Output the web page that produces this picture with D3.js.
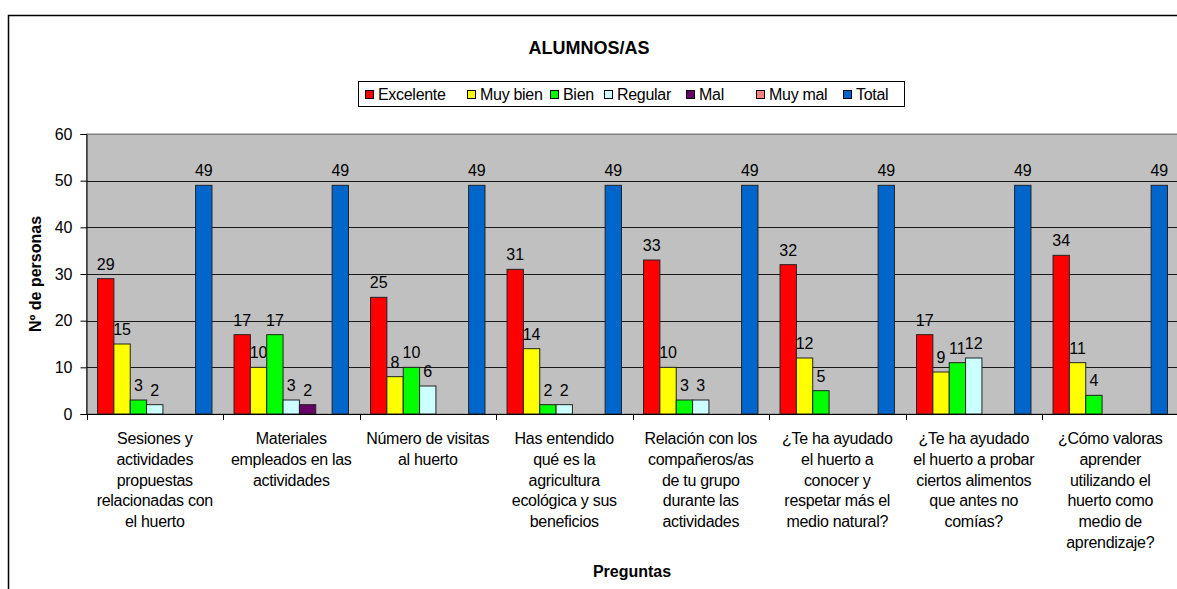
<!DOCTYPE html>
<html>
<head>
<meta charset="utf-8">
<script src="https://cdn.jsdelivr.net/npm/d3@7"></script>
<style>
    body { margin: 0; background: #fff; }
    text { font-family: "Liberation Sans", Arial, sans-serif; }
</style>
</head>
<body>
<div id="chart"></div>
<script>
const questions = [
    ["Sesiones y", "actividades", "propuestas", "relacionadas con", "el huerto"],
    ["Materiales", "empleados en las", "actividades"],
    ["Número de visitas", "al huerto"],
    ["Has entendido", "qué es la", "agricultura", "ecológica y sus", "beneficios"],
    ["Relación con los", "compañeros/as", "de tu grupo", "durante las", "actividades"],
    ["¿Te ha ayudado", "el huerto a", "conocer y", "respetar más el", "medio natural?"],
    ["¿Te ha ayudado", "el huerto a probar", "ciertos alimentos", "que antes no", "comías?"],
    ["¿Cómo valoras", "aprender", "utilizando el", "huerto como", "medio de", "aprendizaje?"]
];

const seriesNames = ["Excelente", "Muy bien", "Bien", "Regular", "Mal", "Muy mal", "Total"];
const seriesColors = ["#FF0000", "#FFFF00", "#00FF00", "#CCFFFF", "#660066", "#FF8080", "#0066CC"];

const excelente = [29, 17, 25, 31, 33, 32, 17, 34];
const muyBien   = [15, 10, 8, 14, 10, 12, 9, 11];
const bien      = [3, 17, 10, 2, 3, 5, 11, 4];
const regular   = [2, 3, 6, 2, 3, 0, 12, 0];
const mal       = [0, 2, 0, 0, 0, 0, 0, 0];
const muyMal    = [0, 0, 0, 0, 0, 0, 0, 0];
const total     = [49, 49, 49, 49, 49, 49, 49, 49];

const seriesValues = [excelente, muyBien, bien, regular, mal, muyMal, total];
const yTicks = [0, 10, 20, 30, 40, 50, 60];

const width = 1177;
const height = 589;
const plot = { left: 86.5, right: 1178.5, top: 134, bottom: 414 };

const svg = d3.select("#chart").append("svg")
    .attr("width", width)
    .attr("height", height);

// outer frame
svg.append("rect")
    .attr("x", 8.5).attr("y", 15.5)
    .attr("width", 1300).attr("height", 700)
    .attr("fill", "#fff")
    .attr("stroke", "#000")
    .attr("stroke-width", 1.5);

const xScaler = d3.scaleBand()
    .domain(d3.range(questions.length))
    .range([plot.left, plot.right])
    .padding(0);

const xInner = d3.scaleBand()
    .domain(d3.range(seriesNames.length))
    .range([0, xScaler.bandwidth()])
    .paddingInner(0)
    .paddingOuter(0.675);

const yScaler = d3.scaleLinear()
    .domain([0, 60])
    .range([plot.bottom, plot.top]);

// plot background
svg.append("rect")
    .attr("x", plot.left).attr("y", plot.top)
    .attr("width", plot.right - plot.left)
    .attr("height", plot.bottom - plot.top)
    .attr("fill", "#C0C0C0")
    .attr("stroke", "#808080");

// gridlines
svg.append("g")
    .selectAll("line")
    .data(yTicks.filter(d => d > 0))
    .join("line")
    .attr("x1", plot.left).attr("x2", plot.right)
    .attr("y1", d => Math.round(yScaler(d)) + 0.5)
    .attr("y2", d => Math.round(yScaler(d)) + 0.5)
    .attr("stroke", d => d === 60 ? "#808080" : "#1a1a1a")
    .attr("stroke-width", 1);

// bars
const groups = svg.append("g")
    .selectAll("g")
    .data(questions.map((q, i) => i))
    .join("g")
    .attr("transform", i => `translate(${xScaler(i)},0)`);

const cells = groups.selectAll("g")
    .data(i => seriesValues.map((vals, s) => ({ s: s, v: vals[i] })))
    .join("g");

cells.filter(d => d.v > 0)
    .append("rect")
    .attr("x", d => xInner(d.s))
    .attr("y", d => yScaler(d.v))
    .attr("width", xInner.bandwidth())
    .attr("height", d => plot.bottom - yScaler(d.v))
    .attr("fill", d => seriesColors[d.s])
    .attr("stroke", "#222")
    .attr("stroke-width", 1);

cells.filter(d => d.v > 0)
    .append("text")
    .attr("x", d => xInner(d.s) + xInner.bandwidth() / 2)
    .attr("y", d => yScaler(d.v) - 9)
    .attr("text-anchor", "middle")
    .attr("font-size", "16px")
    .attr("fill", "#000")
    .text(d => d.v);

// y axis
const yAxisGen = d3.axisLeft(yScaler)
    .tickValues(yTicks)
    .tickSize(6)
    .tickPadding(8);
const yAxis = svg.append("g")
    .attr("transform", `translate(${plot.left},0)`)
    .call(yAxisGen);
yAxis.select(".domain").attr("stroke", "#000");
yAxis.selectAll("text")
    .attr("font-size", "16px")
    .attr("font-family", "Liberation Sans, Arial, sans-serif")
    .attr("fill", "#000");

// x axis line and ticks between categories
svg.append("line")
    .attr("x1", plot.left).attr("x2", plot.right)
    .attr("y1", plot.bottom + 0.5).attr("y2", plot.bottom + 0.5)
    .attr("stroke", "#000");
svg.append("g")
    .selectAll("line")
    .data(d3.range(questions.length + 1))
    .join("line")
    .attr("x1", i => Math.round(plot.left + i * xScaler.step()) + 0.5)
    .attr("x2", i => Math.round(plot.left + i * xScaler.step()) + 0.5)
    .attr("y1", plot.bottom).attr("y2", plot.bottom + 6)
    .attr("stroke", "#000");

// category labels
const catLabels = svg.append("g")
    .selectAll("text")
    .data(questions)
    .join("text")
    .attr("text-anchor", "middle")
    .attr("font-size", "16px")
    .attr("letter-spacing", "-0.3px")
    .attr("fill", "#000");
catLabels.each(function(lines, i) {
    d3.select(this).selectAll("tspan")
        .data(lines)
        .join("tspan")
        .attr("x", xScaler(i) + xScaler.bandwidth() / 2)
        .attr("y", (d, k) => 444 + k * 20.8)
        .text(d => d);
});

// titles
svg.append("text")
    .attr("x", 589).attr("y", 54)
    .attr("text-anchor", "middle")
    .attr("font-size", "18px")
    .attr("font-weight", "bold")
    .text("ALUMNOS/AS");

svg.append("text")
    .attr("x", 632).attr("y", 577)
    .attr("text-anchor", "middle")
    .attr("font-size", "16px")
    .attr("font-weight", "bold")
    .text("Preguntas");

svg.append("text")
    .attr("transform", `translate(41,${(plot.top + plot.bottom) / 2}) rotate(-90)`)
    .attr("text-anchor", "middle")
    .attr("font-size", "16px")
    .attr("font-weight", "bold")
    .text("Nº de personas");

// legend
const legendX = [365, 467, 550, 604, 686, 756, 843];
const legend = svg.append("g");
legend.append("rect")
    .attr("x", 358.5).attr("y", 81.5)
    .attr("width", 546).attr("height", 25)
    .attr("fill", "#fff")
    .attr("stroke", "#000");
const legendItems = legend.selectAll("g")
    .data(seriesNames)
    .join("g")
    .attr("transform", (d, i) => `translate(${legendX[i]},0)`);
legendItems.append("rect")
    .attr("x", 0.5).attr("y", 90.5)
    .attr("width", 8).attr("height", 8)
    .attr("fill", (d, i) => seriesColors[i])
    .attr("stroke", "#000");
legendItems.append("text")
    .attr("x", 13).attr("y", 100)
    .attr("font-size", "16px")
    .attr("letter-spacing", "-0.3px")
    .text(d => d);
</script>
</body>
</html>
